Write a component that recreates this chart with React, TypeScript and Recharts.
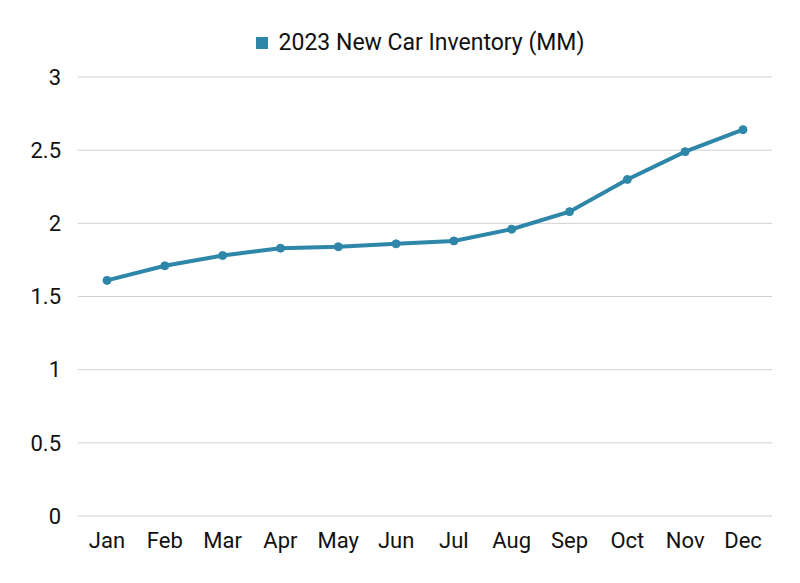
import { LineChart, Line, XAxis, YAxis, CartesianGrid, Legend } from "recharts"

const months = ["Jan", "Feb", "Mar", "Apr", "May", "Jun", "Jul", "Aug", "Sep", "Oct", "Nov", "Dec"]
const inventory = [1.61, 1.71, 1.78, 1.83, 1.84, 1.86, 1.88, 1.96, 2.08, 2.3, 2.49, 2.64]
const yTicks = [0, 0.5, 1, 1.5, 2, 2.5, 3]

const SERIES = "2023 New Car Inventory (MM)"
const LINE_COLOR = "#2e86a8"
const TEXT = "#111"

const data = months.map((m, i) => ({ month: m, value: inventory[i] }))

function LegendBox() {
  return (
    <div style={{ display: "flex", justifyContent: "center", alignItems: "center", gap: 11 }}>
      <span style={{ width: 12, height: 12, background: LINE_COLOR, display: "inline-block" }} />
      <span style={{ fontSize: 23, color: TEXT }}>{SERIES}</span>
    </div>
  )
}

export default function App() {
  return (
    <div style={{ position: "absolute", left: 0, top: 0, fontFamily: "Roboto" }}>
      <LineChart width={800} height={583} data={data} margin={{ top: 47, right: 28, bottom: 0, left: 0 }}>
        <Legend verticalAlign="top" height={30} content={<LegendBox />} wrapperStyle={{ top: 29, left: 60, width: 720 }} />
        <CartesianGrid vertical={false} stroke="#d0d0d0" />
        <XAxis
          dataKey="month"
          axisLine={false}
          tickLine={false}
          tickSize={0}
          tickMargin={16}
          height={67}
          padding={{ left: 29, right: 29 }}
          tick={{ fontSize: 22, fill: TEXT }}
          interval={0}
        />
        <YAxis
          domain={[0, 3]}
          ticks={yTicks}
          axisLine={false}
          tickLine={false}
          tickSize={0}
          tickMargin={17}
          width={78}
          tick={{ fontSize: 22, fill: TEXT }}
        />
        <Line
          dataKey="value"
          name={SERIES}
          stroke={LINE_COLOR}
          strokeWidth={4}
          dot={{ r: 4, fill: LINE_COLOR, stroke: LINE_COLOR, strokeWidth: 1 }}
          isAnimationActive={false}
        />
      </LineChart>
    </div>
  )
}
